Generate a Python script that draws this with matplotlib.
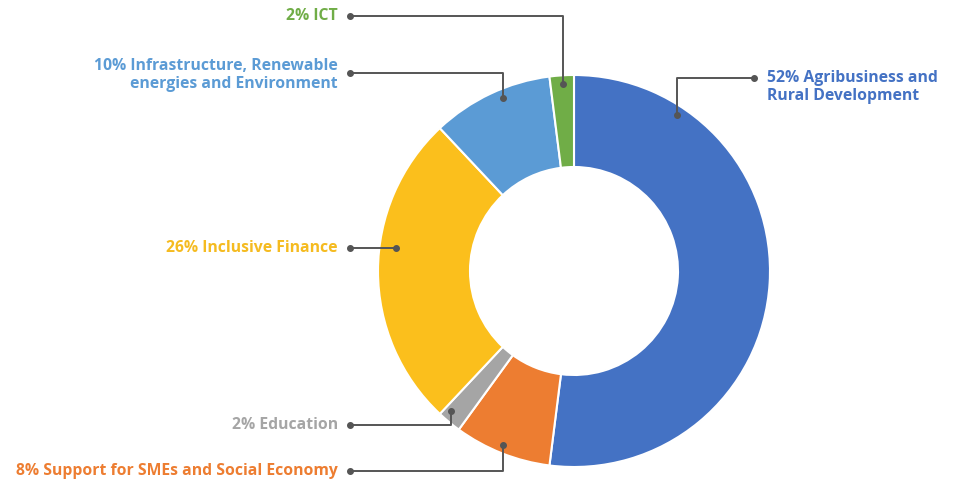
import matplotlib
matplotlib.use("Agg")
import matplotlib.pyplot as plt

W, H = 960, 482

categories = ["Agribusiness and\nRural Development",
              "Support for SMEs and Social Economy",
              "Education",
              "Inclusive Finance",
              "Infrastructure, Renewable\nenergies and Environment",
              "ICT"]
values = [52, 8, 2, 26, 10, 2]
colors = ["#4472C4", "#ED7D31", "#A5A5A5", "#FBBF1C", "#5B9BD5", "#70AD47"]

fig = plt.figure(figsize=(W / 100, H / 100), dpi=100)
ax = fig.add_axes([0, 0, 1, 1])


def Y(y):
    return H - y


cx, cy, R, w = 574, 271, 196, 92
ax.pie(values, colors=colors, startangle=90, counterclock=False,
       center=(cx, Y(cy)), radius=R, frame=True,
       wedgeprops=dict(width=w, edgecolor="white", linewidth=1.5))
ax.set_xlim(0, W)
ax.set_ylim(0, H)
ax.set_aspect("auto")
ax.axis("off")

line_color = "#555555"


def leader(points):
    pts = [(x, Y(y)) for x, y in points]
    xs, ys = zip(*pts)
    ax.plot(xs, ys, color=line_color, lw=1.4, solid_joinstyle="round",
            solid_capstyle="round", zorder=5)
    ax.plot([xs[0], xs[-1]], [ys[0], ys[-1]], "o", color=line_color,
            ms=4, zorder=6)


# leader lines (label end first, wedge end last)
leader([(350, 16), (563, 16), (563, 84)])
leader([(350, 73), (503, 73), (503, 98)])
leader([(754, 78), (677, 78), (677, 115)])
leader([(350, 248), (396, 248)])
leader([(350, 425), (451, 425), (451, 411)])
leader([(350, 471), (503, 471), (503, 445)])

font = dict(fontsize=11.3, fontweight="bold", family=["Open Sans", "DejaVu Sans"])

labels = [
    (f"{values[0]}% {categories[0]}", 767, 87, "left", colors[0]),
    (f"{values[5]}% {categories[5]}", 338, 16, "right", colors[5]),
    (f"{values[4]}% {categories[4]}", 338, 75, "right", colors[4]),
    (f"{values[3]}% {categories[3]}", 338, 248, "right", "#F5BB20"),
    (f"{values[2]}% {categories[2]}", 338, 425, "right", colors[2]),
    (f"{values[1]}% {categories[1]}", 338, 471, "right", colors[1]),
]
for text, x, y, ha, c in labels:
    ax.text(x, Y(y), text, ha=ha, va="center", color=c, multialignment=ha,
            linespacing=1.1, **font)

fig.savefig("out.png", dpi=100, facecolor="white")
